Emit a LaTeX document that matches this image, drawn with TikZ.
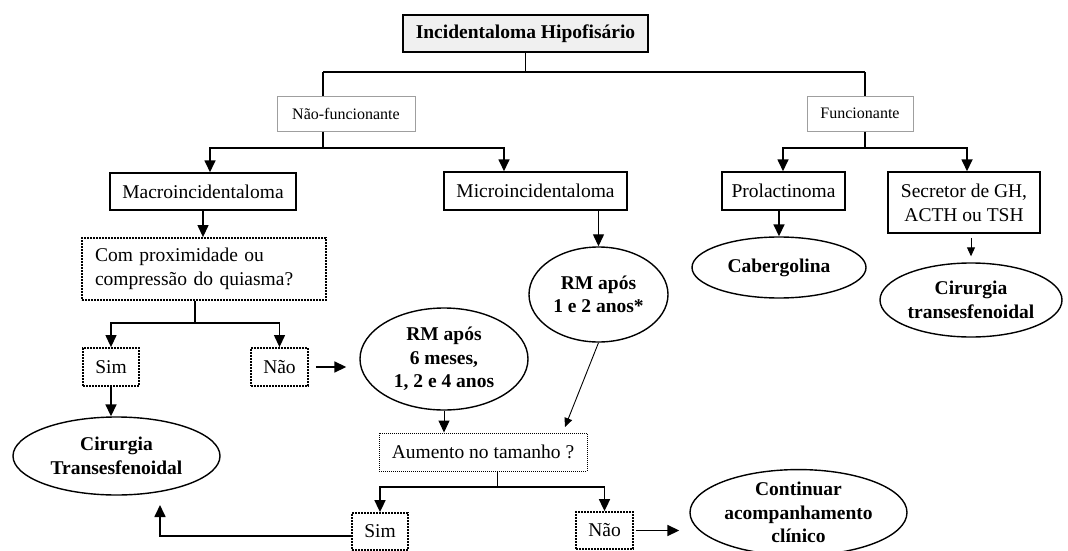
\documentclass[tikz,border=0pt]{standalone}
\usepackage{fontspec}
\setmainfont{Liberation Serif}
\usetikzlibrary{arrows.meta,shapes.geometric}

\begin{document}
\begin{tikzpicture}[x=1pt,y=-1pt,
  >={Triangle[length=12pt,width=11pt]},
  txt/.style={font=\fontsize{19.5}{24}\selectfont},
  box/.style={txt,draw,line width=1.5pt,inner sep=0pt,align=center},
  gbox/.style={draw=gray!75,line width=1pt,inner sep=0pt,font=\fontsize{16}{19}\selectfont},
  dbox/.style={txt,draw,line width=1.8pt,dash pattern=on 1.6pt off 1.4pt,inner sep=0pt,align=center},
  tbox/.style={txt,draw,line width=0.9pt,dash pattern=on 1pt off 1pt,inner sep=0pt},
  oval/.style={ellipse,draw,line width=1.4pt,inner sep=0pt,align=center,font=\fontsize{19.5}{23.5}\selectfont\bfseries},
  lnk/.style={line width=1.7pt},
  fino/.style={line width=0.9pt,-{Triangle[length=9pt,width=8pt]}}]
  \useasboundingbox (0,0) rectangle (1068,551);
  \node[box,fill=gray!12,font=\fontsize{19.5}{24}\selectfont\bfseries,minimum width=245pt,minimum height=37pt] (titulo) at (525.5,33.5) {Incidentaloma Hipofisário};
  \node[gbox,minimum width=138pt,minimum height=35pt] (nfunc) at (346,113.5) {Não-funcionante};
  \node[gbox,minimum width=106pt,minimum height=35pt] (func) at (860,113.5) {Funcionante};
  \node[box,minimum width=186pt,minimum height=37pt] (macro) at (203,191.5) {Macroincidentaloma};
  \node[box,minimum width=183pt,minimum height=38pt] (micro) at (535.5,191) {Microincidentaloma};
  \node[box,minimum width=123pt,minimum height=38pt] (prol) at (783.5,191) {Prolactinoma};
  \node[box,minimum width=152pt,minimum height=61pt] (secr) at (964,202.5) {Secretor de GH,\\ACTH ou TSH};
  \node[dbox,align=left,text width=218pt,inner xsep=13pt,minimum height=62pt] (quiasma) at (204,269) {Com proximidade ou\\compressão do quiasma?};
  \node[oval,minimum width=139pt,minimum height=95pt] (rm12) at (598.5,294.5) {RM após\\1 e 2 anos*};
  \node[oval,minimum width=174pt,minimum height=61pt] (cab) at (779,267.5) {Cabergolina};
  \node[oval,minimum width=182pt,minimum height=74pt] (cirdir) at (971,300) {Cirurgia\\transesfenoidal};
  \node[dbox,minimum width=56pt,minimum height=38pt] (sim1) at (111,367) {Sim};
  \node[dbox,minimum width=57pt,minimum height=38pt] (nao1) at (279.5,367) {Não};
  \node[oval,minimum width=168pt,minimum height=102pt] (rm6) at (444,359) {RM após\\6 meses,\\1, 2 e 4 anos};
  \node[oval,minimum width=207pt,minimum height=78pt] (ciresq) at (116.5,456) {Cirurgia\\Transesfenoidal};
  \node[tbox,minimum width=208pt,minimum height=38pt] (aum) at (483,452) {Aumento no tamanho ?};
  \node[dbox,minimum width=56pt,minimum height=37pt] (sim2) at (380,531.5) {Sim};
  \node[dbox,minimum width=57pt,minimum height=37pt] (nao2) at (604.5,530.5) {Não};
  \node[oval,minimum width=217pt,minimum height=76pt] (cont) at (798.5,512.5) {Continuar\\acompanhamento\\clínico};
  \coordinate (tl) at (323,72);
  \coordinate (tr) at (865,72);
  \coordinate (nl) at (210,148);
  \coordinate (nm) at (323,148);
  \coordinate (nr) at (504,148);
  \coordinate (fl) at (783,148);
  \coordinate (fm) at (865,148);
  \coordinate (fr) at (967,148);
  \coordinate (qm) at (195,323);
  \coordinate (am) at (497,487);
  \coordinate (aumin) at (565,427);
  \coordinate (volta) at (160,505);
  \draw[line width=1pt] (titulo) -- (titulo |- tl);
  \draw[lnk] (tl) -- (tr);
  \draw[lnk] (tl) -- (tl |- nfunc.north);
  \draw[lnk] (tr) -- (tr |- func.north);
  \draw[lnk] (nm |- nfunc.south) -- (nm);
  \draw[lnk] (fm |- func.south) -- (fm);
  \draw[lnk,->] (nr) -| (nl) -- (nl |- macro.north);
  \draw[lnk,->] (nl) -| (nr) -- (nr |- micro.north);
  \draw[lnk,->] (fr) -| (fl) -- (fl |- prol.north);
  \draw[lnk,->] (fl) -| (fr) -- (fr |- secr.north);
  \draw[line width=1.2pt,->] (macro.south) -- (macro.south |- quiasma.north);
  \draw[line width=1.3pt,->] (micro.south -| rm12.north) -- (rm12.north);
  \draw[lnk,->] (prol.south -| cab.north) -- (cab.north);
  \draw[fino,shorten <=4pt,shorten >=6pt] (secr.south -| cirdir.north) -- (cirdir.north);
  \draw[lnk] (qm |- quiasma.south) -- (qm);
  \draw[line width=1.2pt,->] (qm) -| (sim1);
  \draw[line width=1.2pt,->] (qm) -| (nao1);
  \draw[lnk,->] (sim1) -- (sim1 |- ciresq.north);
  \draw[lnk,->,shorten <=7pt,shorten >=13pt] (nao1.east) -- (nao1.east -| rm6.west);
  \draw[line width=1pt,->] (rm6.south) -- (rm6.south |- aum.north);
  \draw[fino] (rm12.south) -- (aumin);
  \draw[line width=1pt] (am |- aum.south) -- (am);
  \draw[lnk,->] (am) -| (sim2);
  \draw[lnk,->] (am) -| (nao2);
  \draw[lnk,->] (sim2.west |- 0,536) -| (volta);
  \draw[lnk,->,shorten <=2pt,shorten >=10pt] (nao2.east) -- (nao2.east -| cont.west);
\end{tikzpicture}
\end{document}
